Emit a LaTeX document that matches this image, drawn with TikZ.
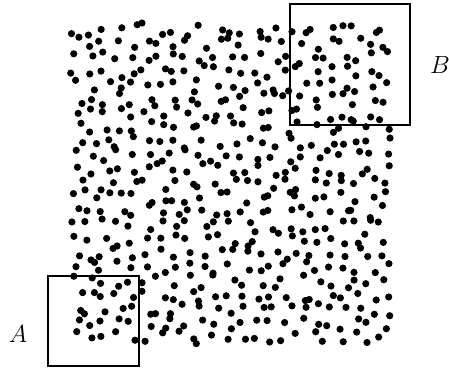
\documentclass[tikz,border=0pt]{standalone}
\begin{document}
\begin{tikzpicture}[x=1pt,y=-1pt,
  dot/.style={fill=black},
  zoombox/.style={draw=black,line width=2.4pt},
  lbl/.style={font=\fontsize{28}{32}\selectfont}]
\useasboundingbox (0,0) rectangle (449,368);
\pgfmathsetseed{2024}
\foreach \i in {0,...,22}{
  \foreach \j in {0,...,22}{
    \pgfmathsetmacro{\px}{70+\i*14+rnd*13}
    \pgfmathsetmacro{\py}{23+\j*14+rnd*13}
    \fill[dot] (\px,\py) circle (3.6);
  }
}
\draw[zoombox] (48,276) rectangle (139,366);
\draw[zoombox] (290,4) rectangle (410,125);
\node[lbl] (A) at (18,334) {$A$};
\node[lbl] (B) at (440,65) {$B$};
\end{tikzpicture}
\end{document}
